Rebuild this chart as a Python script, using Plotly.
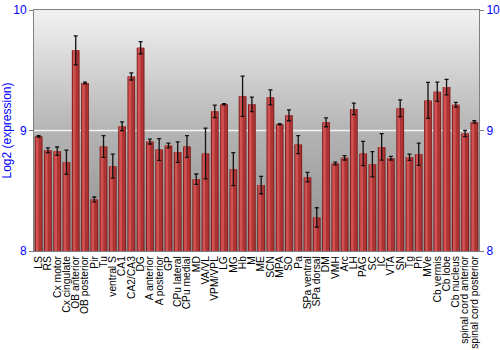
import plotly.graph_objects as go

categories = ["LS", "RS", "Cx motor", "Cx cingulate", "OB anterior", "OB posterior", "Pir", "Tu",
              "ventral S", "CA1", "CA2/CA3", "DG", "A anterior", "A posterior", "GP", "CPu lateral",
              "CPu medial", "MD", "VA/VL", "VPM/VPL", "LG", "MG", "Hb", "M", "ME", "SCN", "MPA", "SO",
              "Pa", "SPa ventral", "SPa dorsal", "DM", "VMH", "Arc", "LH", "PAG", "SC", "IC", "VTA",
              "SN", "Tg", "Pn", "MVe", "Cb vermis", "Cb lobe", "Cb nucleus", "spinal cord anterior",
              "spinal cord posterior"]
values = [8.952, 8.836, 8.828, 8.737, 9.665, 9.394, 8.428, 8.867,
          8.704, 9.035, 9.449, 9.687, 8.908, 8.842, 8.875, 8.820,
          8.867, 8.596, 8.809, 9.159, 9.217, 8.679, 9.284, 9.217, 8.547, 9.275, 9.052, 9.126,
          8.883, 8.613, 8.279, 9.068, 8.726, 8.773, 9.179, 8.809, 8.720, 8.864, 8.770,
          9.184, 8.778, 8.803, 9.250, 9.322, 9.360, 9.214, 8.975,
          9.071]
errors = [0.006, 0.020, 0.035, 0.100, 0.120, 0.007, 0.020, 0.090,
          0.100, 0.036, 0.030, 0.050, 0.020, 0.090, 0.020, 0.085,
          0.090, 0.043, 0.210, 0.052, 0.005, 0.137, 0.167, 0.060, 0.072, 0.062, 0.005, 0.045,
          0.075, 0.040, 0.080, 0.037, 0.012, 0.018, 0.048, 0.100, 0.105, 0.110, 0.015,
          0.070, 0.026, 0.092, 0.150, 0.080, 0.065, 0.020, 0.026,
          0.010]
y_ticks = [8, 9, 10]
y_title = "Log2 (expression)"

n = len(categories)
xs = list(range(n))
x_lo, x_hi = -0.5, n - 0.5
y_lo, y_hi = y_ticks[0], y_ticks[-1]

fig = go.Figure()

# gradient background on the base subplot
fig.add_trace(go.Scatter(
    x=[x_lo, x_hi, x_hi, x_lo, x_lo], y=[y_lo, y_lo, y_hi, y_hi, y_lo],
    mode="lines", line=dict(width=0), fill="toself",
    fillgradient=dict(type="vertical", start=y_lo, stop=y_hi,
                      colorscale=[[0, "#8e8e8e"], [0.5, "#b4b4b4"], [1, "#f2f2f2"]]),
    hoverinfo="skip", showlegend=False, xaxis="x", yaxis="y"))
# white reference line at 9
fig.add_trace(go.Scatter(
    x=[x_lo, x_hi], y=[9, 9], mode="lines", line=dict(color="#f4f4f4", width=1.5),
    hoverinfo="skip", showlegend=False, xaxis="x", yaxis="y"))

# bars on overlay subplot (drawn above background)
fig.add_trace(go.Bar(x=xs, y=values, width=0.84, marker=dict(color="#7e1e1e", line=dict(width=0)),
                     xaxis="x2", yaxis="y2", showlegend=False, hoverinfo="skip"))
fig.add_trace(go.Bar(x=xs, y=values, width=0.64, marker=dict(color="#ae3434", line=dict(width=0)),
                     xaxis="x2", yaxis="y2", showlegend=False, hoverinfo="skip"))
fig.add_trace(go.Bar(x=xs, y=values, width=0.28, offset=-0.30,
                     marker=dict(color="#d05252", line=dict(width=0)),
                     xaxis="x2", yaxis="y2", showlegend=False, hoverinfo="skip"))
fig.add_trace(go.Bar(x=xs, y=values, width=0.84, marker=dict(color="rgba(0,0,0,0)", line=dict(width=0)),
                     error_y=dict(type="data", array=errors, visible=True, color="#111111",
                                  thickness=1.3, width=2),
                     xaxis="x2", yaxis="y2", showlegend=False, hoverinfo="skip"))

axcol = "#808080"
blue = "#0000ff"
fig.update_layout(
    width=500, height=350,
    margin=dict(l=34, r=21, t=10, b=99),
    paper_bgcolor="white", plot_bgcolor="white",
    barmode="overlay",
    font=dict(family="Liberation Sans, Arial, sans-serif", size=11, color="black"),
    xaxis=dict(range=[x_lo, x_hi], visible=False, showgrid=False, zeroline=False, fixedrange=True,
               automargin=False),
    yaxis=dict(range=[y_lo, y_hi], tickvals=y_ticks, ticks="outside", ticklen=4, tickcolor=axcol,
               showline=True, linecolor=axcol, linewidth=1, showgrid=False, zeroline=False,
               automargin=False, tickfont=dict(color=blue, size=12),
               title=dict(text=y_title, font=dict(color=blue, size=12), standoff=4)),
    xaxis2=dict(overlaying="x", range=[x_lo, x_hi], tickvals=xs, ticktext=categories, tickangle=-90,
                ticks="", showline=True, mirror=True, linecolor=axcol, linewidth=1, showgrid=False,
                zeroline=False, automargin=False, tickfont=dict(size=10.3, color="black")),
    yaxis2=dict(overlaying="y", side="right", range=[y_lo, y_hi], tickvals=y_ticks, ticks="outside",
                ticklen=4, tickcolor=axcol, showline=True, linecolor=axcol, linewidth=1,
                showgrid=False, zeroline=False, automargin=False, tickfont=dict(color=blue, size=12)),
)

fig.write_html("out.html")
